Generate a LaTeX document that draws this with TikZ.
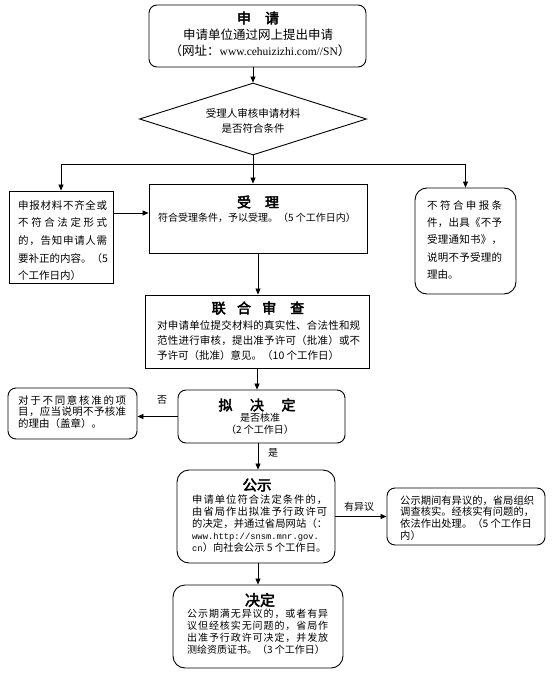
\documentclass[tikz,border=0pt]{standalone}
\usepackage{fontspec}
\setmainfont{Noto Sans CJK SC}[AutoFakeBold=3]
\newfontfamily\tms{Liberation Serif}
\newfontfamily\cour{Liberation Mono}
\usetikzlibrary{shapes.geometric,arrows.meta}
\def\jlfirst#1{#1\jlrest}
\def\jlrest#1{\ifx#1\relax\else\hskip0pt plus 1fil #1\expandafter\jlrest\fi}
\newcommand\jl[2]{\makebox[#1][s]{\jlfirst#2\relax}}
\begin{document}
\begin{tikzpicture}[x=1pt,y=-1pt,
  box/.style={draw, line width=0.9pt, inner sep=0pt},
  rbx/.style={box, rounded corners=#1},
  rbx/.default=8pt,
  arr/.style={line width=0.8pt, -{Triangle[length=6pt,width=5pt]}},
  ln/.style={line width=0.8pt},
  txt/.style={inner sep=0pt, anchor=north west, align=left},
  ttl/.style={inner sep=0pt, font=\fontsize{14}{14}\selectfont\bfseries},
  lbl/.style={inner sep=0pt, font=\fontsize{10}{10}\selectfont}]
\useasboundingbox[fill=white] (0,0) rectangle (553,674);

% boxes
\node[rbx, minimum width=217pt, minimum height=62pt] (sq) at (257.5,36) {};
\node[draw, line width=0.9pt, shape=diamond, inner sep=0pt, minimum width=227pt, minimum height=72pt] (dia) at (253,119) {};
\node[box, minimum width=104pt, minimum height=92pt] (lbox) at (61,237) {};
\node[box, minimum width=218pt, minimum height=69pt] (sl) at (258,218.5) {};
\node[rbx=12pt, minimum width=101pt, minimum height=106pt] (rbox) at (465.5,241) {};
\node[box, minimum width=224pt, minimum height=73pt] (lh) at (257,331.5) {};
\node[rbx, minimum width=167pt, minimum height=53pt] (nj) at (261.5,416.5) {};
\node[rbx, minimum width=129pt, minimum height=51pt] (bty) at (72.5,413.5) {};
\node[rbx=12pt, minimum width=158pt, minimum height=93pt] (gs) at (256,516.5) {};
\node[rbx, minimum width=158pt, minimum height=57pt] (yy) at (466,516.5) {};
\node[rbx=12pt, minimum width=170pt, minimum height=83pt] (jd) at (258,626.5) {};

% texts
\node[ttl] (sqt) at (258,18) {申\hspace{1em}请};
\node[inner sep=0pt, font=\fontsize{12.5}{12.5}\selectfont] (sqa) at (258,35) {申请单位通过网上提出申请};
\node[inner sep=0pt, font=\fontsize{12.5}{12.5}\selectfont] (sqb) at (260,51) {（网址：{\tms\fontsize{11.5}{11.5}\selectfont www.cehuizizhi.com//SN}）};

\node[inner sep=0pt, align=center, font=\fontsize{10.5}{15}\selectfont] (diat) at (253,120.5) {受理人审核申请材料\\是否符合条件};

\node[txt, font=\fontsize{10.5}{17.6}\selectfont] (lboxt) at (18,200.2) {\jl{89pt}{申报材料不齐全或}\\\jl{89pt}{不符合法定形式}\\\jl{89pt}{的，告知申请人需}\\\jl{89pt}{要补正的内容。（5}\\个工作日内）};

\node[ttl] (slt) at (258,202) {受\hspace{1em}理};
\node[txt, font=\fontsize{10}{10}\selectfont] (sla) at (158,212.4) {符合受理条件，予以受理。（5 个工作日内）};

\node[txt, font=\fontsize{10.5}{17.3}\selectfont] (rboxt) at (427,200.2) {\jl{75pt}{不符合申报条}\\\jl{75pt}{件，出具《不予}\\\jl{75pt}{受理通知书》，}\\\jl{75pt}{说明不予受理的}\\理由。};

\node[ttl] (lht) at (258,308) {联\hspace{0.8em}合\hspace{0.8em}审\hspace{1em}查};
\node[txt, font=\fontsize{10.5}{15}\selectfont] (lha) at (157,320.2) {\jl{203pt}{对申请单位提交材料的真实性、合法性和规}\\\jl{203pt}{范性进行审核，提出准予许可（批准）或不}\\予许可（批准）意见。（10 个工作日）};

\node[ttl] (njt) at (257,405) {拟\hspace{1.25em}决\hspace{1.25em}定};
\node[inner sep=0pt, align=center, font=\fontsize{10}{12}\selectfont] (nja) at (260,424) {是否核准\\（2 个工作日）};

\node[txt, font=\fontsize{10.5}{11.5}\selectfont] (btyt) at (18,395.2) {\jl{108pt}{对于不同意核准的项}\\\jl{108pt}{目，应当说明不予核准}\\的理由（盖章）。};

\node[lbl] (lno) at (162,400) {否};
\node[lbl] (lyes) at (273,453) {是};
\node[lbl] (lobj) at (359,507) {有异议};

\node[inner sep=0pt, font=\fontsize{14.5}{14.5}\selectfont\bfseries] (gst) at (257,485) {公示};
\node[txt, font=\fontsize{10.3}{12}\selectfont] (gsa) at (192,494.3) {\jl{135pt}{申请单位符合法定条件的，}\\\jl{135pt}{由省局作出拟准予行政许可}\\\jl{135pt}{的决定，并通过省局网站（：}\\{\cour\fontsize{8.8}{12}\selectfont www.http://snsm.mnr.gov.}\\{\cour\fontsize{8.8}{12}\selectfont cn}）向社会公示 5 个工作日。};

\node[txt, font=\fontsize{10.3}{11.7}\selectfont] (yya) at (400,495.3) {\jl{133pt}{公示期间有异议的，省局组织}\\\jl{133pt}{调查核实。经核实有问题的，}\\依法作出处理。（5 个工作日\\内）};

\node[inner sep=0pt, font=\fontsize{15}{15}\selectfont\bfseries] (jdt) at (260,600) {决定};
\node[txt, font=\fontsize{10}{12}\selectfont] (jda) at (187,608.4) {\jl{141pt}{公示期满无异议的，或者有异}\\\jl{141pt}{议但经核实无问题的，省局作}\\\jl{141pt}{出准予行政许可决定，并发放}\\测绘资质证书。（3 个工作日）};

% connectors
\draw[arr] (dia.north |- sq.south) -- (dia.north);
\coordinate (sp) at (253,164);
\coordinate (ly) at (0,213);
\draw[ln] (dia.south) -- (sp);
\draw[arr] (sp) -| (lbox.north);
\draw[arr] (sp) -- (sp |- sl.north);
\draw[arr] (sp) -| (rbox.north);
\draw[arr] (lbox.east |- ly) -- (sl.west |- ly);
\draw[arr] (sl.south) -- (sl.south |- lh.north);
\draw[arr] (lh.south) -- (lh.south |- nj.north);
\draw[arr] (nj.west) -- (nj.west -| bty.east);
\draw[arr] (jd.north |- nj.south) -- (jd.north |- gs.north);
\draw[arr] (gs.east) -- (yy.west);
\draw[arr] (jd.north |- gs.south) -- (jd.north);
\end{tikzpicture}
\end{document}
